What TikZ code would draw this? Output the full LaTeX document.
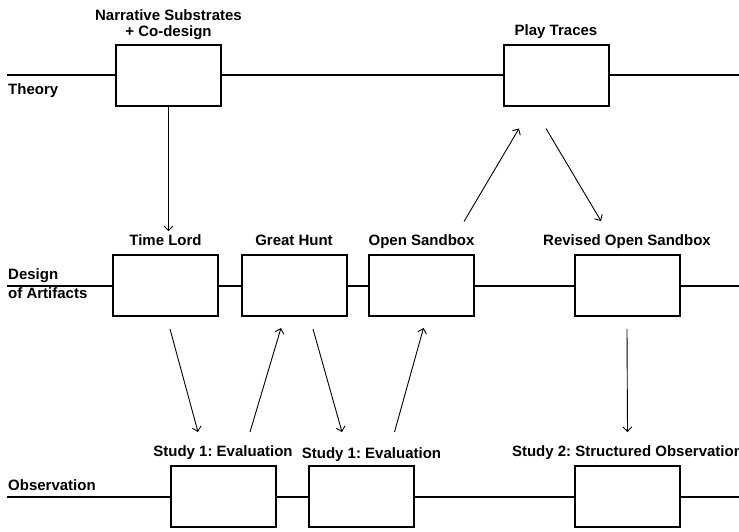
\documentclass[tikz,border=0pt]{standalone}
\usepackage{fontspec}
\setmainfont{Liberation Sans}
\usetikzlibrary{calc,arrows.meta}
\frenchspacing

\begin{document}
\begin{tikzpicture}[x=1pt,y=-1pt,
  box/.style={draw, line width=2pt, fill=white, minimum width=105pt, minimum height=61pt, inner sep=0pt},
  lbl/.style={font=\fontsize{15}{16}\selectfont\bfseries, anchor=base},
  lanelbl/.style={font=\fontsize{15}{19}\selectfont\bfseries, anchor=base west, inner sep=0pt, align=left},
  lane/.style={line width=2pt},
  arr/.style={-{Straight Barb[length=4.5pt,width=9pt]}, line width=0.9pt}]
\useasboundingbox (0,0) rectangle (739,531);

% boxes
\node[box] (ns) at (168.5,75) {};
\node[box] (pt) at (556,75) {};
\node[box] (tl) at (165.5,285.5) {};
\node[box] (gh) at (294,285.5) {};
\node[box] (os) at (421.5,285.5) {};
\node[box] (ros) at (627,285.5) {};
\node[box] (s1a) at (223,496.5) {};
\node[box] (s1b) at (361.5,496.5) {};
\node[box] (s2) at (627.5,496.5) {};

% lanes
\coordinate (th-w) at (7,75);
\coordinate (th-e) at (745,75);
\coordinate (de-w) at (7,285.5);
\coordinate (de-e) at (745,285.5);
\coordinate (ob-w) at (7,496.5);
\coordinate (ob-e) at (745,496.5);
\draw[lane] (th-w) -- (ns) (ns) -- (pt) (pt) -- (th-e);
\draw[lane] (de-w) -- (tl) (tl) -- (gh) (gh) -- (os) (os) -- (ros) (ros) -- (de-e);
\draw[lane] (ob-w) -- (s1a) (s1a) -- (s1b) (s1b) -- (s2) (s2) -- (ob-e);

\node[lanelbl] (th-l) at (8,94) {Theory};
\node[lanelbl] (de-l) at (8,298) {Design\\of Artifacts};
\node[lanelbl] (ob-l) at (8,490) {Observation};

% labels over the boxes
\node[lbl, align=center] (ns-t) at ([yshift=7pt]ns.north) {Narrative Substrates\\+ Co-design};
\foreach \n/\t in {pt/Play Traces, tl/Time Lord, gh/Great Hunt, os/Open Sandbox,
  ros/Revised Open Sandbox, s1a/Study 1: Evaluation,
  s2/Study 2: Structured Observation}
  \node[lbl] (\n-t) at ([yshift=8.5pt]\n.north) {\t};
\node[lbl] (s1b-t) at ([xshift=10pt,yshift=7pt]s1b.north) {Study 1: Evaluation};

% arrows
\draw[arr] (ns.south) -- (ns.south |- tl-t.north);
\foreach \a/\ax/\ay/\b/\bx/\by in {
  tl.south/4.5/12/s1a.north/-25/-33,
  s1a.north/27/-33/gh.south/-13/11,
  gh.south/19/12/s1b.north/-19.5/-33,
  s1b.north/33/-33/os.south/2/11,
  os.north/42.5/-32.5/pt.south/-37/22,
  pt.south/-10/22/ros.north/-26/-33,
  ros.south/0/12/s2.north/0/-33}
  \draw[arr] ($(\a)+(\ax,\ay)$) -- ($(\b)+(\bx,\by)$);

\end{tikzpicture}
\end{document}
